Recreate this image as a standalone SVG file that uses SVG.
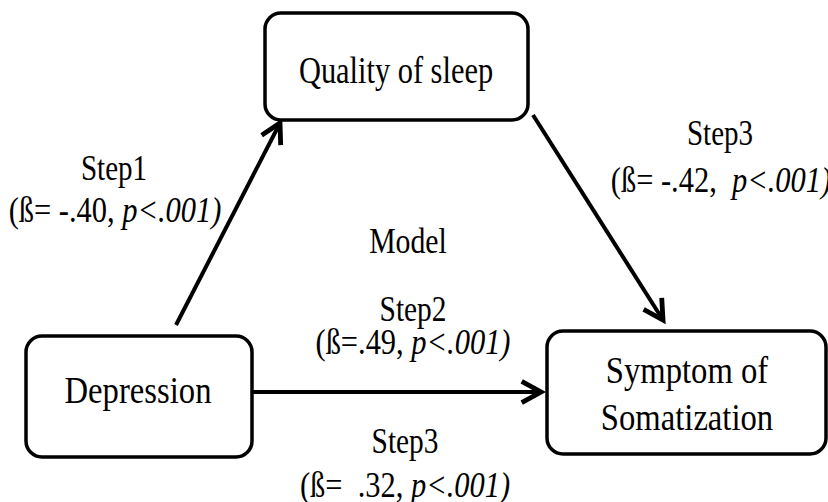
<svg xmlns="http://www.w3.org/2000/svg" width="828" height="502" viewBox="0 0 828 502">
<defs>
<style>
.box{fill:#fff;stroke:#000;stroke-width:3.5}
.node{font-family:"Liberation Serif","Times New Roman",serif;font-size:38px;fill:#000;text-anchor:middle}
.lbl{font-family:"Liberation Serif","Times New Roman",serif;font-size:35px;fill:#000;text-anchor:middle;white-space:pre}
.it{font-style:italic}
.edge{stroke:#000;stroke-width:4;fill:none}
</style>
<marker id="arr" markerUnits="userSpaceOnUse" markerWidth="30" markerHeight="30" viewBox="-22 -14 26 28" refX="0" refY="0" orient="auto">
<path d="M-18,-10 L0,0 L-18,10" fill="none" stroke="#000" stroke-width="4.5" stroke-linejoin="miter"/>
</marker>
</defs>
<rect width="828" height="502" fill="#fff"/>
<g id="connectors">
<line class="edge" x1="176" y1="325" x2="280" y2="123" marker-end="url(#arr)"/>
<line class="edge" x1="533" y1="115" x2="663" y2="320" marker-end="url(#arr)"/>
<line class="edge" x1="252" y1="392" x2="541" y2="392" marker-end="url(#arr)"/>
</g>
<g id="quality">
<rect class="box" x="265" y="13" width="263" height="107" rx="16"/>
<text class="node" font-size="41" transform="translate(396,83) scale(0.8,1)">Quality of sleep</text>
</g>
<g id="depression">
<rect class="box" x="26" y="336" width="226" height="121" rx="16"/>
<text class="node" transform="translate(138,403) scale(0.86,1)">Depression</text>
</g>
<g id="symptom">
<rect class="box" x="547" y="331" width="279" height="123" rx="16"/>
<text class="node" transform="translate(687,383) scale(0.86,1)">Symptom of</text>
<text class="node" transform="translate(687,430) scale(0.86,1)">Somatization</text>
</g>
<g id="labels">
<text class="lbl" transform="translate(114,180) scale(0.83,1)">Step1</text>
<text class="lbl" transform="translate(115,222) scale(0.87,1)">(ß= -.40, <tspan class="it">p&lt;.001)</tspan></text>
<text class="lbl" transform="translate(720,145) scale(0.83,1)">Step3</text>
<text class="lbl" transform="translate(721,192) scale(0.87,1)">(ß= -.42,  <tspan class="it">p&lt;.001)</tspan></text>
<text class="lbl" transform="translate(408,253) scale(0.85,1)">Model</text>
<text class="lbl" transform="translate(413,321) scale(0.84,1)">Step2</text>
<text class="lbl" transform="translate(413,354) scale(0.87,1)">(ß=.49, <tspan class="it">p&lt;.001)</tspan></text>
<text class="lbl" transform="translate(405,453) scale(0.84,1)">Step3</text>
<text class="lbl" transform="translate(405,497) scale(0.87,1)">(ß=  .32, <tspan class="it">p&lt;.001)</tspan></text>
</g>
</svg>
